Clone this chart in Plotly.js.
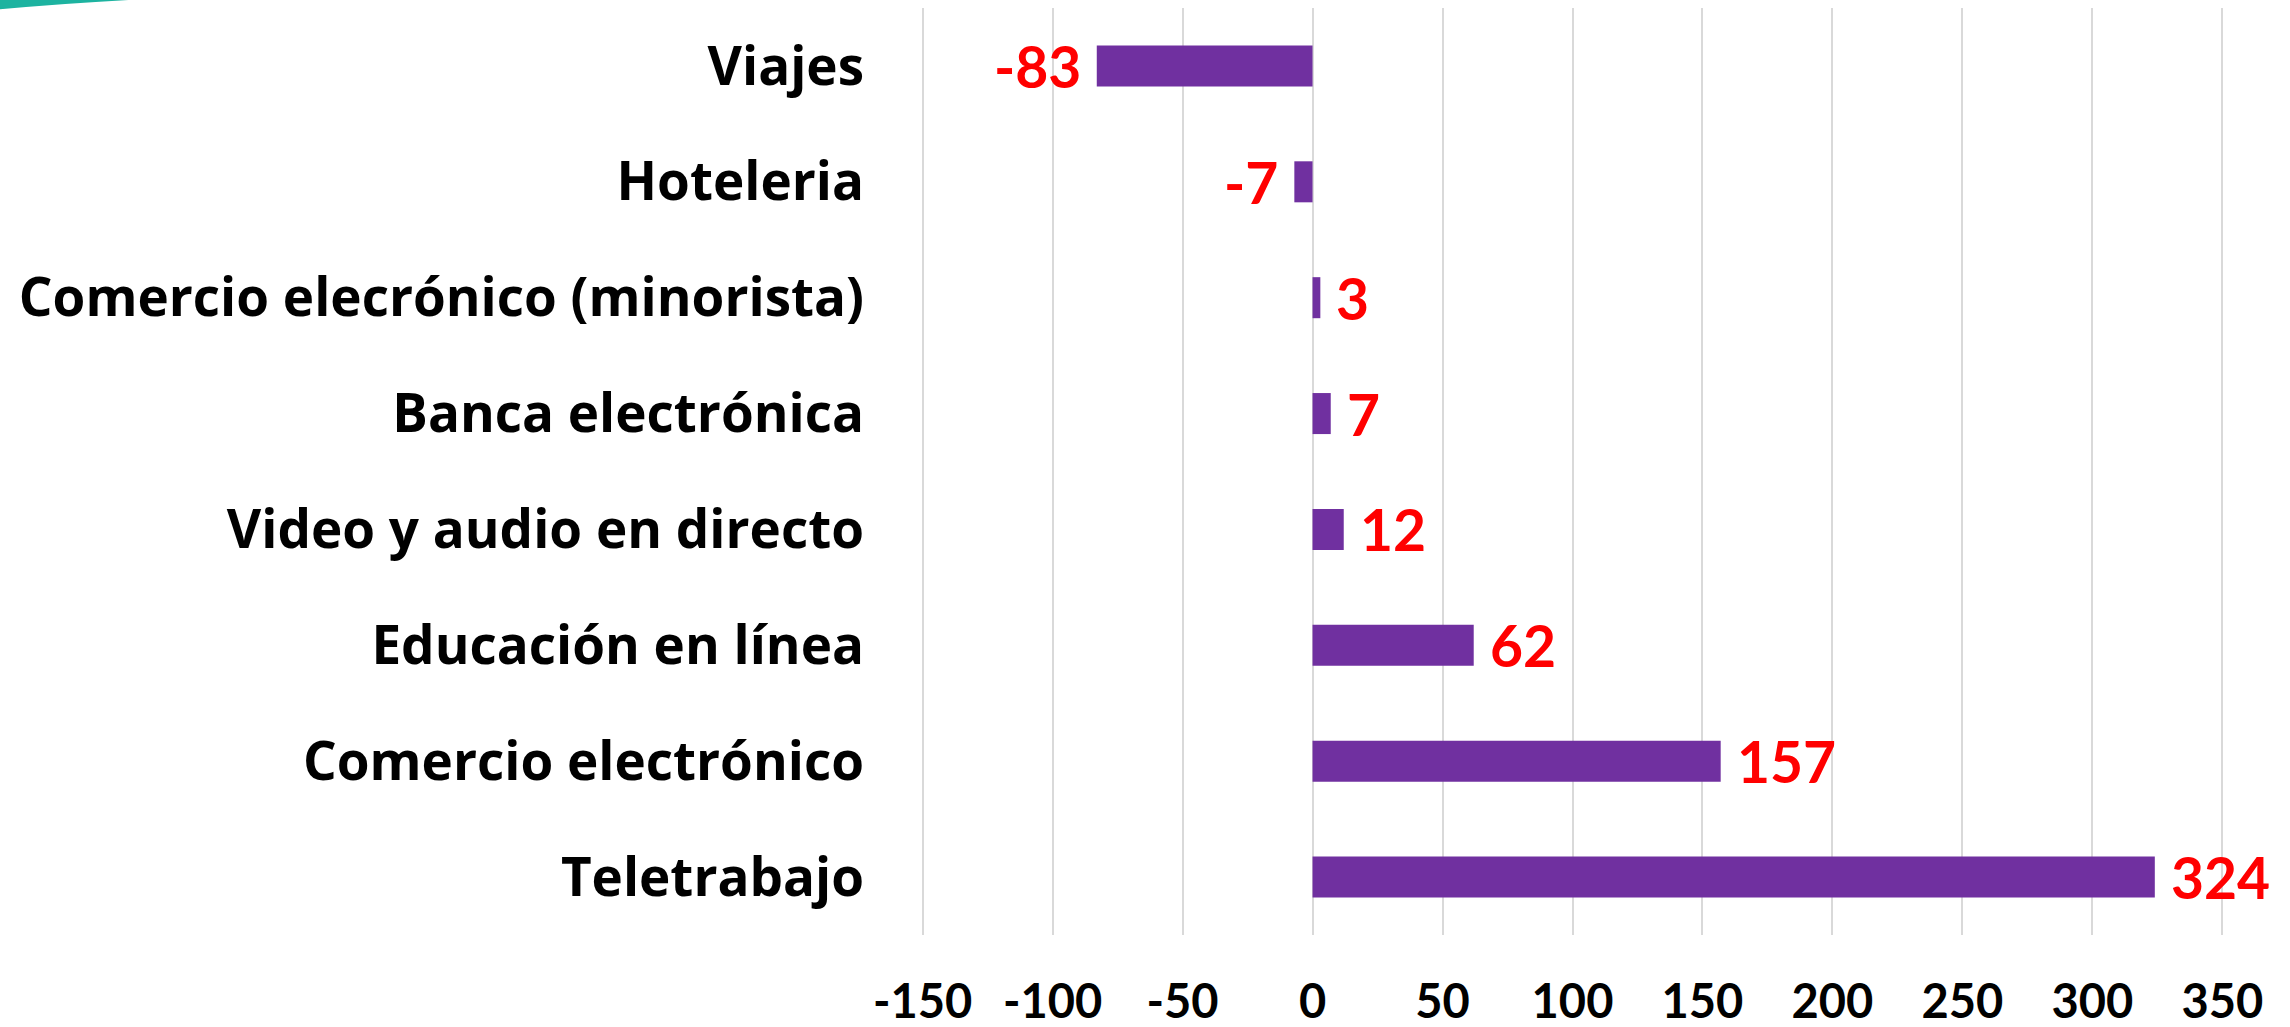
<!DOCTYPE html>
<html>
<head>
<meta charset="utf-8">
<script src="https://cdn.plot.ly/plotly-3.0.1.min.js"></script>
<style>
html,body{margin:0;padding:0;background:#fff;}
#chart{width:2290px;height:1027px;}
</style>
</head>
<body>
<div id="chart"></div>
<script>
const categories = [
  "Viajes",
  "Hoteleria",
  "Comercio elecrónico (minorista)",
  "Banca electrónica",
  "Video y audio en directo",
  "Educación en línea",
  "Comercio electrónico",
  "Teletrabajo"
];
const values = [-83, -7, 3, 7, 12, 62, 157, 324];
const tickVals = [-150, -100, -50, 0, 50, 100, 150, 200, 250, 300, 350];

const FONT = "Lato, 'Open Sans', sans-serif";
const CAT_FONT = "'Open Sans', Lato, sans-serif";

const trace = {
  type: "bar",
  orientation: "h",
  x: values,
  y: categories,
  marker: {color: "#7030A0", line: {width: 0}},
  hoverinfo: "none"
};

const annotations = values.map((v, i) => ({
  x: v,
  y: categories[i],
  xref: "x",
  yref: "y",
  text: String(v),
  showarrow: false,
  xanchor: v < 0 ? "right" : "left",
  yanchor: "middle",
  xshift: v < 0 ? -14 : 14,
  font: {family: FONT, size: 57, color: "#FF0000", weight: "bold"}
}));

const layout = {
  width: 2290,
  height: 1027,
  margin: {l: 920, r: 65, t: 8, b: 92, pad: 0},
  paper_bgcolor: "#ffffff",
  plot_bgcolor: "#ffffff",
  showlegend: false,
  bargap: 0.646,
  xaxis: {
    range: [-151, 351],
    tickvals: tickVals,
    ticktext: tickVals.map(String),
    showgrid: true,
    gridcolor: "#D9D9D9",
    gridwidth: 2,
    zeroline: false,
    showline: false,
    ticks: "",
    ticklabelstandoff: 35,
    tickfont: {family: FONT, size: 47, color: "#000000", weight: "bold"},
    fixedrange: true
  },
  yaxis: {
    type: "category",
    categoryorder: "array",
    categoryarray: categories,
    autorange: "reversed",
    showgrid: false,
    zeroline: false,
    showline: false,
    ticks: "",
    ticklabelstandoff: 55,
    tickfont: {family: CAT_FONT, size: 53, color: "#000000", weight: "bold"},
    fixedrange: true
  },
  annotations: annotations,
  shapes: [{
    type: "path",
    xref: "paper",
    yref: "paper",
    path: "M -0.7106 1.0086 L -0.6066 1.0086 Q -0.66 1.0045 -0.7106 0.9978 Z",
    fillcolor: "#1DB3A0",
    line: {width: 0},
    layer: "above"
  }]
};

Plotly.newPlot("chart", [trace], layout, {displayModeBar: false, staticPlot: true});
</script>
</body>
</html>
